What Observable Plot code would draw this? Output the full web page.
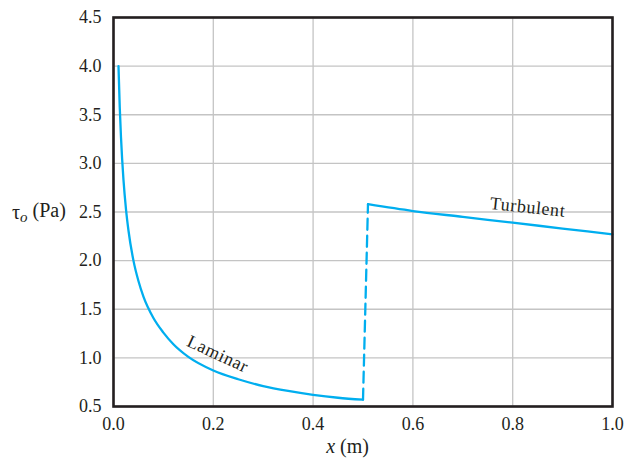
<!DOCTYPE html>
<html>
<head>
<meta charset="utf-8">
<script src="https://cdn.jsdelivr.net/npm/d3@7"></script>
<script src="https://cdn.jsdelivr.net/npm/@observablehq/plot@0.6"></script>
<style>
  html, body { margin: 0; padding: 0; background: #fff; }
  #chart svg { display: block; font-family: "Liberation Serif", "DejaVu Serif", serif; }
</style>
</head>
<body>
<div id="chart"></div>
<script>
// Laminar region
const laminarX   = [0.01, 0.0125, 0.015, 0.02, 0.025, 0.03, 0.04, 0.05, 0.06, 0.08, 0.10, 0.12, 0.15, 0.20, 0.25, 0.30, 0.35, 0.40, 0.45, 0.50];
const laminarTau = [4.00, 3.58, 3.27, 2.83, 2.53, 2.31, 2.00, 1.79, 1.63, 1.41, 1.26, 1.14, 1.01, 0.87, 0.78, 0.71, 0.66, 0.62, 0.59, 0.57];
// Transition (dashed)
const transX   = [0.50, 0.51];
const transTau = [0.57, 2.58];
// Turbulent region
const turbX   = [0.51, 0.60, 0.70, 0.80, 0.90, 1.00];
const turbTau = [2.58, 2.51, 2.45, 2.39, 2.33, 2.27];
// Ticks
const xTicks = [0, 0.2, 0.4, 0.6, 0.8, 1.0];
const yTicks = [0.5, 1.0, 1.5, 2.0, 2.5, 3.0, 3.5, 4.0, 4.5];
// Labels
const labels = [
  {x: 0.209, y: 1.04, text: "Laminar", rotate: 25},
  {x: 0.83, y: 2.55, text: "Turbulent", rotate: 6}
];

const laminar = laminarX.map((x, i) => ({x, y: laminarTau[i]}));
const trans = transX.map((x, i) => ({x, y: transTau[i]}));
const turb = turbX.map((x, i) => ({x, y: turbTau[i]}));

const lineColor = "#00aeef";

const chart = Plot.plot({
  width: 626,
  height: 458,
  marginLeft: 113,
  marginRight: 14,
  marginTop: 17,
  marginBottom: 52,
  style: {fontFamily: "'Liberation Serif', serif", fontSize: "18px", color: "#231f20"},
  x: {domain: [0, 1]},
  y: {domain: [0.5, 4.5]},
  marks: [
    Plot.gridX(xTicks, {stroke: "#c4c4c4", strokeOpacity: 1, strokeWidth: 1.3}),
    Plot.gridY(yTicks, {stroke: "#c4c4c4", strokeOpacity: 1, strokeWidth: 1.3}),
    Plot.axisX({ticks: xTicks, tickFormat: d => d.toFixed(1), tickSize: 0, tickPadding: 11, label: null, fontSize: 18, fill: "#231f20"}),
    Plot.axisY({ticks: yTicks, tickFormat: d => d.toFixed(1), tickSize: 0, tickPadding: 12, label: null, fontSize: 18, fill: "#231f20"}),
    Plot.line(laminar, {x: "x", y: "y", stroke: lineColor, strokeWidth: 2.3, curve: "monotone-x"}),
    Plot.line(trans, {x: "x", y: "y", stroke: lineColor, strokeWidth: 2.3, strokeDasharray: "11,6"}),
    Plot.line(turb, {x: "x", y: "y", stroke: lineColor, strokeWidth: 2.3, curve: "monotone-x"}),
    Plot.text(labels, {x: "x", y: "y", text: "text", rotate: "rotate", fontSize: 18, fill: "#231f20", fontFamily: "'Liberation Serif', serif"}),
    Plot.frame({stroke: "#231f20", strokeWidth: 2.6})
  ]
});

document.getElementById("chart").appendChild(chart);

// letter spacing on annotation labels
d3.select(chart).selectAll("g[aria-label='text'] text").style("letter-spacing", "0.6px");

// Axis titles with italic parts
const svg = d3.select(chart);
const sx = chart.scale("x"), sy = chart.scale("y");

const xl = svg.append("text")
  .attr("x", sx.apply(0.47))
  .attr("y", 453)
  .attr("text-anchor", "middle")
  .attr("font-size", 20)
  .attr("font-family", "'Liberation Serif', serif")
  .attr("fill", "#231f20");
xl.append("tspan").attr("font-style", "italic").text("x");
xl.append("tspan").text(" (m)");

const yl = svg.append("text")
  .attr("x", 12)
  .attr("y", sy.apply(2.5))
  .attr("dy", "0.35em")
  .attr("text-anchor", "start")
  .attr("font-size", 20)
  .attr("font-family", "'Liberation Serif', serif")
  .attr("fill", "#231f20");
yl.append("tspan").text("τ");
yl.append("tspan").attr("font-style", "italic").attr("font-size", 15).attr("dy", "0.25em").text("o");
yl.append("tspan").attr("dy", "-0.25em").text(" (Pa)");
</script>
</body>
</html>
